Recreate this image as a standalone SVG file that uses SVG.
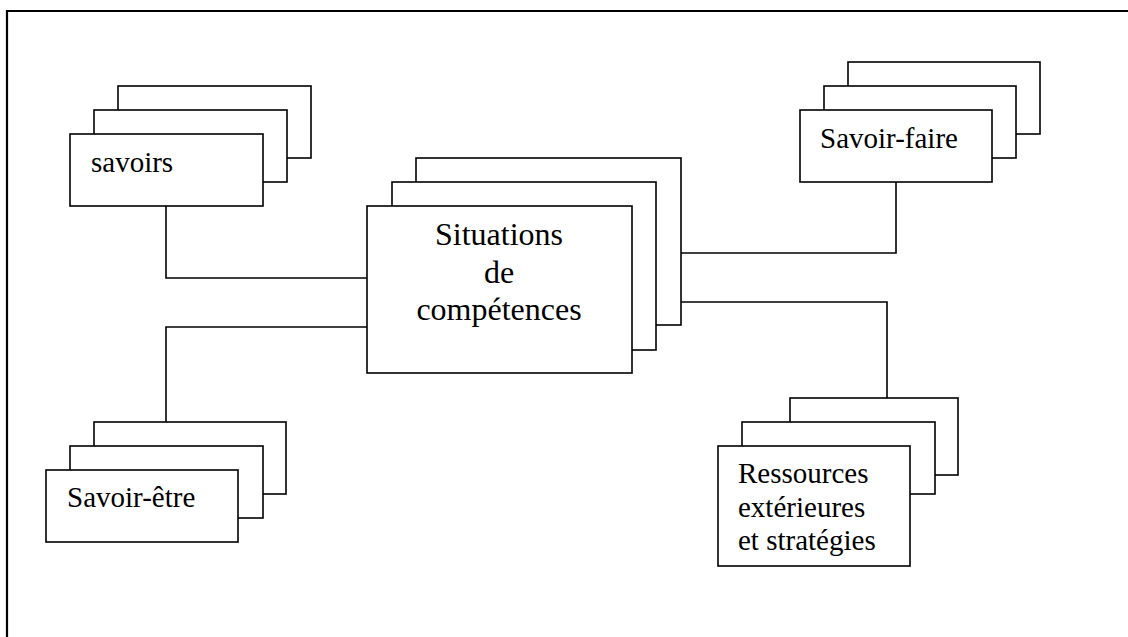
<svg xmlns="http://www.w3.org/2000/svg" width="1128" height="637" viewBox="0 0 1128 637">
<style>
.bx{fill:#fff;stroke:#000;stroke-width:1.6}
.cn{fill:none;stroke:#000;stroke-width:1.6}
.t{font-family:"Liberation Serif","Times New Roman",serif;font-size:29px;fill:#000}
.tc{font-family:"Liberation Serif","Times New Roman",serif;font-size:32px;fill:#000;text-anchor:middle}
</style>
<rect width="1128" height="637" fill="#fff"/>
<path d="M7,637 V11 H1128" fill="none" stroke="#000" stroke-width="2.2"/>
<g id="connectors">
<path class="cn" d="M166,206 V278 H367"/>
<path class="cn" d="M367,327 H166 V422"/>
<path class="cn" d="M896,182 V253 H681"/>
<path class="cn" d="M681,302 H887 V398"/>
</g>
<g id="savoirs">
<rect class="bx" x="118" y="86" width="193" height="72"/>
<rect class="bx" x="94" y="110" width="193" height="72"/>
<rect class="bx" x="70" y="134" width="193" height="72"/>
<text class="t" x="91" y="172">savoirs</text>
</g>
<g id="situations">
<rect class="bx" x="416" y="158" width="265" height="167"/>
<rect class="bx" x="392" y="182" width="264" height="168"/>
<rect class="bx" x="367" y="206" width="265" height="167"/>
<text class="tc" x="499" y="245">Situations</text>
<text class="tc" x="499" y="283">de</text>
<text class="tc" x="499" y="320">compétences</text>
</g>
<g id="savoir-faire">
<rect class="bx" x="848" y="62" width="192" height="72"/>
<rect class="bx" x="824" y="86" width="192" height="72"/>
<rect class="bx" x="800" y="110" width="192" height="72"/>
<text class="t" x="820" y="148">Savoir-faire</text>
</g>
<g id="savoir-etre">
<rect class="bx" x="94" y="422" width="192" height="72"/>
<rect class="bx" x="70" y="446" width="193" height="72"/>
<rect class="bx" x="46" y="470" width="192" height="72"/>
<text class="t" x="67" y="507">Savoir-être</text>
</g>
<g id="ressources">
<rect class="bx" x="790" y="398" width="168" height="77"/>
<rect class="bx" x="742" y="422" width="193" height="72"/>
<rect class="bx" x="718" y="446" width="192" height="120"/>
<text class="t" x="738" y="483">Ressources</text>
<text class="t" x="738" y="517">extérieures</text>
<text class="t" x="738" y="550">et stratégies</text>
</g>
</svg>
